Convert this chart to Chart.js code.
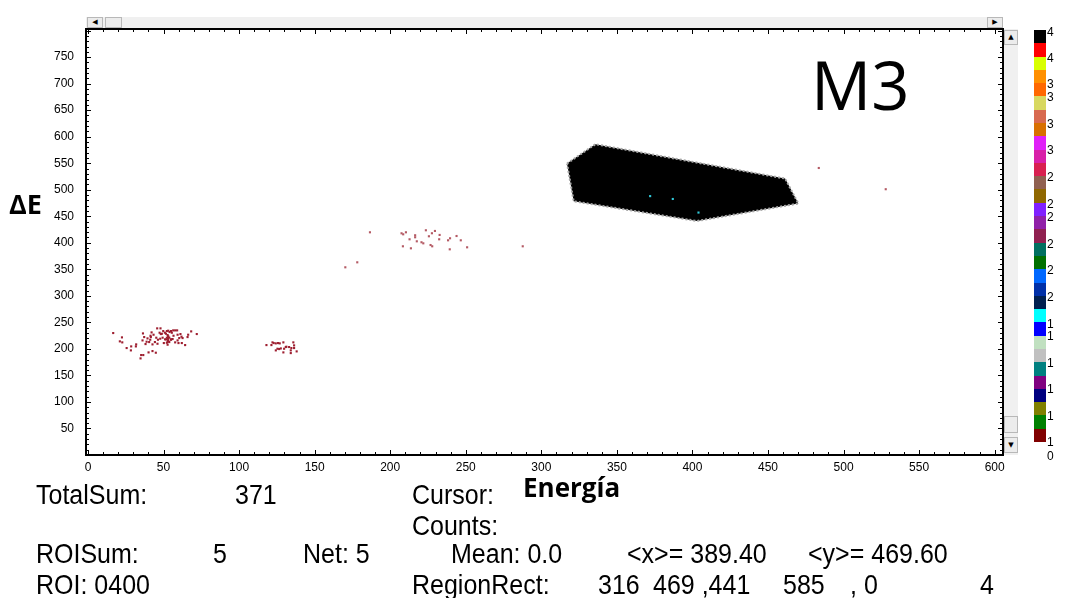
<!DOCTYPE html>
<html>
<head>
<meta charset="utf-8">
<script src="https://cdn.jsdelivr.net/npm/chart.js@4.4.1/dist/chart.umd.min.js"></script>
<style>
  html, body { margin: 0; padding: 0; background: #fff; }
  #wrap { position: relative; width: 1080px; height: 598px; overflow: hidden; background: #fff; }
  #c { position: absolute; left: 0; top: 0; }
  .abs { position: absolute; white-space: nowrap; }
  .info { font-family: "Liberation Sans", "Arial", sans-serif; font-size: 25px; color: #000; line-height: 1; transform: scale(1, 1.1); transform-origin: 0 0; }
  .big { font-family: "Open Sans", "Liberation Sans", sans-serif; color: #000; line-height: 1; }
  .sb { position: absolute; background: #f0f0f0; }
  .btn { position: absolute; background: #ececec; border: 1px solid #b8b8b8; box-sizing: border-box; font-size: 7px; line-height: 1; display: flex; align-items: center; justify-content: center; color: #000; font-family: "DejaVu Sans", sans-serif; }
  .cell { position: absolute; left: 1034px; width: 12px; }
  .cbl { position: absolute; left: 1047px; font-family: "Liberation Sans", sans-serif; font-size: 12px; line-height: 1; color: #000; }
</style>
</head>
<body>
<div id="wrap">
  <canvas id="c" width="1080" height="598"></canvas>
</div>
<script>
// ---------------- data ----------------
// events cluster A (light particles)
const clusterAX = [16.7,22.5,21.1,22.7,25.6,28.6,28.4,31.9,31.7,36.4,36.1,38.1,35.2,36.6,34.8,40.1,42.7,44.9,41.2,41.6,39.4,38.8,42.1,41.4,43.4,45.8,48.0,47.4,48.9,49.8,50.9,51.6,52.2,53.1,54.0,54.9,55.5,56.4,57.7,59.0,52.7,53.1,52.2,53.8,51.8,53.1,52.7,52.2,53.8,54.9,56.0,56.6,59.3,61.2,61.9,62.6,60.4,59.3,57.7,59.9,62.1,64.3,66.3,65.9,68.3,72.0,52.7,45.2,46.3,47.8,49.4,48.2,46.0,42.7,50.2,40.5,44.3,37.2,53.0,53.0,53.0,51.0,55.0];
const clusterAY = [229.9,221.7,214.2,212.3,201.6,204.7,197.2,208.5,204.7,229.2,216.0,209.1,188.4,188.4,182.1,193.4,195.9,192.8,217.3,222.3,219.8,213.5,231.1,224.8,226.7,238.7,238.7,230.5,228.6,233.6,230.5,228.6,233.6,234.3,231.8,233.6,230.5,234.9,234.9,234.9,226.1,223.6,221.1,221.1,217.9,216.0,213.5,211.6,212.9,217.3,218.6,224.8,226.7,228.0,223.0,220.4,220.4,216.0,212.3,211.0,211.0,207.2,226.7,222.3,233.0,228.0,207.9,221.1,217.3,219.2,221.1,228.0,209.7,208.5,211.0,212.9,212.9,222.3,219.0,215.0,223.0,218.0,218.0];
// events cluster B
const clusterBX = [118.1,122.1,122.9,124.3,125.8,126.9,121.4,129.3,124.3,126.5,127.6,129.8,131.3,133.1,134.6,135.9,136.4,136.4,134.2,134.2,129.3,138.1,130.9,125.4];
const clusterBY = [207.2,212.3,211.0,210.4,211.0,210.4,207.2,212.3,197.2,199.7,200.9,200.3,204.1,203.5,201.6,212.3,206.6,201.6,197.2,192.1,193.4,195.3,203.5,200.3];
// events cluster C (upper band) and isolated events
const clusterCX = [186.6,170.3,178.2,207.5,208.6,210.4,216.5,216.5,212.8,217.6,220.7,221.9,208.4,213.7,223.6,227.6,229.6,225.6,232.7,232.4,226.7,227.8,238.3,239.6,243.9,246.7,239.4,250.9,287.7,483.6,527.9];
const clusterCY = [419.8,353.8,363.2,417.9,416.0,419.8,414.2,410.4,406.6,402.8,401.0,399.0,393.4,389.6,423.6,418.0,422.3,412.3,414.8,406.6,395.8,393.4,404.7,408.5,412.8,404.7,387.7,391.5,393.4,541.0,501.0];
// ROI polygon (M3) vertices, closed
const roiX = [317.0,335.8,461.3,470.1,403.0,321.4,317.0];
const roiY = [549.4,585.8,521.1,474.0,441.1,478.3,549.4];
// counts inside ROI
const roiHitX = [372.0,387.0,404.0];
const roiHitY = [488.0,482.6,457.0];
// axis tick labels
const xTickLabels = [0,50,100,150,200,250,300,350,400,450,500,550,600];
const yTickLabels = [50,100,150,200,250,300,350,400,450,500,550,600,650,700,750];
// colour scale legend
const scaleColors = ['#000000','#ff0000','#d8ff00','#ff9000','#ff6800','#d8d860','#d86a50','#d87000','#e020f8','#d820a8','#d82050','#906050','#906800','#8020ff','#9020a8','#902050','#007060','#007000','#0068ff','#0030a8','#002050','#00ffff','#0000ff','#c0e0c0','#c0c0c0','#008080','#800080','#000080','#808000','#008000','#800000'];
const scaleLabels = ['4','4','3','3','3','3','2','2','2','2','2','2','1','1','1','1','1','1','0'];
const scaleLabelTops = [26,52,78,91,118,144,171,198,211,238,264,291,318,330,357,383,410,436,450];
// info panel text
const infoRows = [
  [['TotalSum:',36],['371',235],['Cursor:',412]],
  [['Counts:',412]],
  [['ROISum:',36],['5',213],['Net: 5',303],['Mean: 0.0',451],['<x>= 389.40',627],['<y>= 469.60',808]],
  [['ROI: 0400',36],['RegionRect:',412],['316',598],['469 ,441',653],['585',783],[', 0',850],['4',980]]
];
const infoRowTops = [482,513,541,572];

// ---------------- decorations (HTML) ----------------
const wrap = document.getElementById('wrap');
function add(cls, style, text) {
  const d = document.createElement('div');
  d.className = cls;
  Object.assign(d.style, style);
  if (text !== undefined) d.textContent = text;
  wrap.appendChild(d);
  return d;
}
// scrollbars
add('sb', {left:'86px', top:'17px', width:'917px', height:'11px'});
add('btn', {left:'87px', top:'17px', width:'16px', height:'11px'}, '◀');
add('btn', {left:'105px', top:'17px', width:'17px', height:'11px'});
add('btn', {left:'987px', top:'17px', width:'16px', height:'11px'}, '▶');
add('sb', {left:'1004px', top:'29px', width:'14px', height:'426px'});
add('btn', {left:'1004px', top:'30px', width:'14px', height:'15px'}, '▲');
add('btn', {left:'1004px', top:'416px', width:'14px', height:'17px'});
add('btn', {left:'1004px', top:'437px', width:'14px', height:'16px'}, '▼');
// colour scale
const cellH = 412 / scaleColors.length;
scaleColors.forEach((c, i) => {
  add('cell', {top: (30 + i * cellH).toFixed(2) + 'px', height: (cellH + 0.5).toFixed(2) + 'px', background: c});
});
scaleLabels.forEach((t, i) => add('cbl', {top: scaleLabelTops[i] + 'px'}, t));
// info panel
infoRows.forEach((row, r) => row.forEach(([t, x]) => add('abs info', {left: x + 'px', top: (infoRowTops[r] - 1) + 'px'}, t)));
// titles
add('abs big', {left:'811px', top:'51px', fontSize:'67px'}, 'M3');
add('abs big', {left:'9px', top:'190px', fontSize:'27px', fontWeight:'700'}, 'ΔE');
add('abs big', {left:'523px', top:'474px', fontSize:'26px', fontWeight:'700'}, 'Energía');

// ---------------- chart ----------------
const toPts = (xs, ys) => xs.map((x, i) => ({x, y: ys[i]}));

const framePlugin = {
  id: 'frame',
  afterDatasetsDraw(chart) {
    const {ctx, chartArea: a, scales: {x, y}} = chart;
    ctx.save();
    ctx.strokeStyle = '#000';
    ctx.lineWidth = 1;
    ctx.beginPath();
    for (let v = 0; v <= 600; v += 10) {
      const px = Math.round(x.getPixelForValue(v)) + 0.5;
      const len = v % 50 === 0 ? 5 : 3;
      ctx.moveTo(px, a.bottom); ctx.lineTo(px, a.bottom - len);
      ctx.moveTo(px, a.top); ctx.lineTo(px, a.top + len);
    }
    for (let v = 10; v <= 800; v += 10) {
      const py = Math.round(y.getPixelForValue(v)) + 0.5;
      const len = v % 50 === 0 ? 5 : 3;
      ctx.moveTo(a.left, py); ctx.lineTo(a.left + len, py);
      ctx.moveTo(a.right, py); ctx.lineTo(a.right - len, py);
    }
    ctx.stroke();
    ctx.lineWidth = 2;
    ctx.strokeRect(a.left, a.top, a.right - a.left, a.bottom - a.top);
    ctx.restore();
  }
};

const tickFont = {family: '"Liberation Sans", sans-serif', size: 12};

new Chart(document.getElementById('c'), {
  type: 'scatter',
  data: {
    datasets: [
      {type: 'line', label: 'ROI M3', data: toPts(roiX, roiY), fill: 'shape', backgroundColor: '#000000',
       borderColor: '#a8a8a8', borderDash: [2, 2], borderWidth: 2, pointRadius: 0, tension: 0, order: 3},
      {label: 'A', data: toPts(clusterAX, clusterAY), pointStyle: 'rect', pointRadius: 1.5, borderWidth: 0, backgroundColor: '#9e1f30', order: 1},
      {label: 'B', data: toPts(clusterBX, clusterBY), pointStyle: 'rect', pointRadius: 1.5, borderWidth: 0, backgroundColor: '#9e1f30', order: 1},
      {label: 'C', data: toPts(clusterCX, clusterCY), pointStyle: 'rect', pointRadius: 1.5, borderWidth: 0, backgroundColor: '#b45a64', order: 1},
      {label: 'ROI hits', data: toPts(roiHitX, roiHitY), pointStyle: 'rect', pointRadius: 1.5, borderWidth: 0, backgroundColor: '#30c8d8', order: 0}
    ]
  },
  options: {
    responsive: false,
    animation: false,
    events: [],
    layout: {padding: {left: 0, right: 77, top: 29, bottom: 0}},
    plugins: {legend: {display: false}, tooltip: {enabled: false}},
    scales: {
      x: {
        type: 'linear', min: -1.3, max: 605.5,
        afterFit(s) { s.height = 143; },
        grid: {display: false, drawTicks: false},
        border: {display: false},
        ticks: {stepSize: 50, includeBounds: false, autoSkip: false, maxRotation: 0, padding: 5, color: '#000', font: tickFont,
                callback: v => xTickLabels.includes(v) ? String(v) : ''}
      },
      y: {
        type: 'linear', min: 0, max: 803,
        afterFit(s) { s.width = 86; },
        grid: {display: false, drawTicks: false},
        border: {display: false},
        ticks: {stepSize: 50, includeBounds: false, autoSkip: false, padding: 12, color: '#000', font: tickFont,
                callback: v => yTickLabels.includes(v) ? String(v) : ''}
      }
    }
  },
  plugins: [framePlugin]
});
</script>
</body>
</html>
